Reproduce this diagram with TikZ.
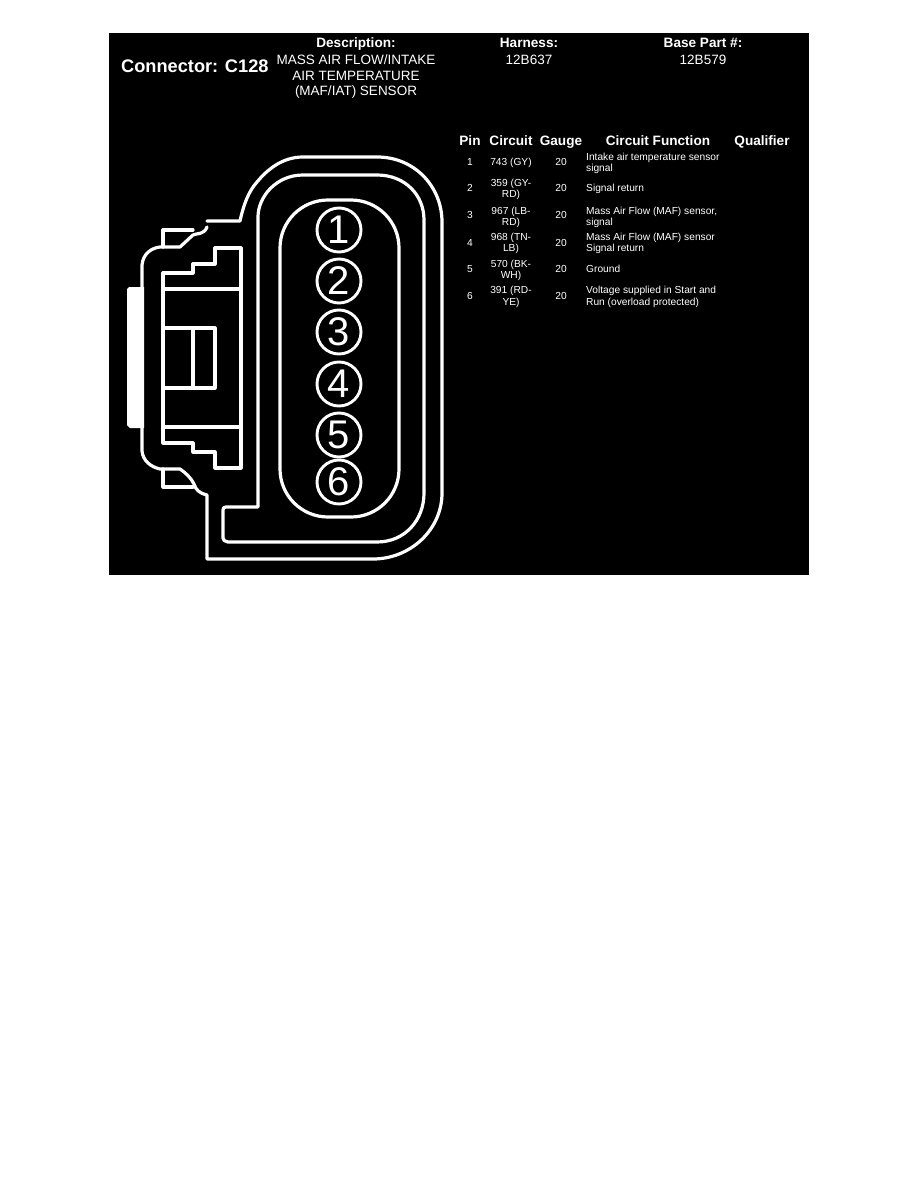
\documentclass[tikz,border=0pt]{standalone}
\usepackage{fontspec}
\setmainfont{Liberation Sans}
\tikzset{
  outline/.style={draw=white,line width=3.2pt,line join=round,line cap=round},
  pinring/.style={circle,draw=white,line width=2.9pt,minimum size=44pt,inner sep=0pt,text=white,font=\fontsize{40}{40}\selectfont},
  conn/.style={text=white,inner sep=0pt,font=\bfseries\fontsize{18.2}{20}\selectfont},
  head/.style={text=white,inner sep=0pt,anchor=base,font=\bfseries\fontsize{13.6}{15}\selectfont},
  desc/.style={text=white,inner sep=0pt,anchor=base,font=\fontsize{13.5}{15}\selectfont},
  cell/.style={text=white,inner sep=0pt,anchor=base,font=\fontsize{10.2}{11}\selectfont},
  func/.style={cell,anchor=base west}
}
\begin{document}
\begin{tikzpicture}[x=1pt,y=-1pt]
\useasboundingbox (0,0) rectangle (918,1188);
\fill[white] (0,0) rectangle (918,1188);
\fill[black] (109,33) rectangle (809,575);
% left bar
\fill[white] (127,289) -- (129,287) -- (144,287) -- (144,428) -- (130,428) -- (127,425) -- cycle;
% outer shell
\draw[outline] (207,221) -- (240,221) .. controls (244,203) and (249,191) .. (257,182)
  .. controls (267,170) and (282,157) .. (303,157) -- (377,157)
  .. controls (415,157) and (442,187) .. (442,222) -- (442,493)
  .. controls (442,530) and (410,559) .. (373,559) -- (207,559) -- (207,495)
  .. controls (199,493) and (196,490) .. (194,484) .. controls (191,478) and (186,473) .. (180,469)
  -- (160,469) .. controls (151,467) and (143,461) .. (142,451) -- (142,265)
  .. controls (143,254) and (151,248) .. (160,247) -- (180,247) -- (193,235)
  .. controls (197,233) and (204,235) .. (207,227);
% latch tabs
\draw[outline] (163,247) -- (163,230) -- (193,230);
\draw[outline] (163,469) -- (163,487) -- (193,487);
% second shell
\draw[outline] (258,507) -- (258,217) .. controls (258,197) and (276,175) .. (303,175) -- (377,175)
  .. controls (405,175) and (424,195) .. (424,220) -- (424,493)
  .. controls (424,520) and (405,542) .. (377,542) -- (228,542)
  .. controls (225,542) and (223,540) .. (223,538) -- (223,510) .. controls (223,508) and (224,507) .. (226,507) -- cycle;
% inner cavity
\draw[outline,rounded corners=48pt] (280,200) rectangle (399,517);
% latch body
\draw[outline] (163,273) -- (193,273) -- (193,264) -- (215,264) -- (215,248) -- (241,248)
  -- (241,468) -- (215,468) -- (215,452) -- (193,452) -- (193,443) -- (163,443) -- cycle;
\draw[outline] (163,289) -- (241,289);
\draw[outline] (163,427) -- (241,427);
\draw[outline] (163,328) -- (215,328) -- (215,388) -- (163,388);
\draw[outline] (193,328) -- (193,388);
% pins
\node[pinring] (p1) at (339,230) {1};
\node[pinring] (p2) at (339,281) {2};
\node[pinring] (p3) at (339,332) {3};
\node[pinring] (p4) at (339,384) {4};
\node[pinring] (p5) at (339,435) {5};
\node[pinring] (p6) at (339,482) {6};
% title block
\node[conn,anchor=base west] (conntitle) at (121,73) {Connector: C128};
\node[head] (hdesc) at (356,47.5) {Description:};
\node[head] (hharn) at (529,47.5) {Harness:};
\node[head] (hbase) at (703,47.5) {Base Part \#:};
\node[desc] (d1) at (356,65) {MASS AIR FLOW/INTAKE};
\node[desc] (d2) at (356,81) {AIR TEMPERATURE};
\node[desc] (d3) at (356,96) {(MAF/IAT) SENSOR};
\node[desc] (harn) at (529,65) {12B637};
\node[desc] (base) at (703,65) {12B579};
% table header
\node[head] (tpin) at (470,145.5) {Pin};
\node[head] (tcir) at (511,145.5) {Circuit};
\node[head] (tgau) at (561,145.5) {Gauge};
\node[head] (tfun) at (658,145.5) {Circuit Function};
\node[head] (tqua) at (762,145.5) {Qualifier};
% rows
\node[cell] (n1) at (470,165.5) {1};
\node[cell] (c1) at (511,165.5) {743 (GY)};
\node[cell] (g1) at (561,165.5) {20};
\node[func] (f1a) at (586,160.5) {Intake air temperature sensor};
\node[func] (f1b) at (586,171.5) {signal};
\node[cell] (n2) at (470,191.5) {2};
\node[cell] (c2a) at (511,186.5) {359 (GY-};
\node[cell] (c2b) at (511,197.5) {RD)};
\node[cell] (g2) at (561,191.5) {20};
\node[func] (f2) at (586,191.5) {Signal return};
\node[cell] (n3) at (470,218.5) {3};
\node[cell] (c3a) at (511,214.5) {967 (LB-};
\node[cell] (c3b) at (511,225.5) {RD)};
\node[cell] (g3) at (561,218.5) {20};
\node[func] (f3a) at (586,214.5) {Mass Air Flow (MAF) sensor,};
\node[func] (f3b) at (586,225.5) {signal};
\node[cell] (n4) at (470,246.5) {4};
\node[cell] (c4a) at (511,240.5) {968 (TN-};
\node[cell] (c4b) at (511,251.5) {LB)};
\node[cell] (g4) at (561,246.5) {20};
\node[func] (f4a) at (586,240.5) {Mass Air Flow (MAF) sensor};
\node[func] (f4b) at (586,251.5) {Signal return};
\node[cell] (n5) at (470,272.5) {5};
\node[cell] (c5a) at (511,267.5) {570 (BK-};
\node[cell] (c5b) at (511,278.5) {WH)};
\node[cell] (g5) at (561,272.5) {20};
\node[func] (f5) at (586,272.5) {Ground};
\node[cell] (n6) at (470,299.5) {6};
\node[cell] (c6a) at (511,293.5) {391 (RD-};
\node[cell] (c6b) at (511,305.5) {YE)};
\node[cell] (g6) at (561,299.5) {20};
\node[func] (f6a) at (586,293.5) {Voltage supplied in Start and};
\node[func] (f6b) at (586,305.5) {Run (overload protected)};
\end{tikzpicture}
\end{document}
